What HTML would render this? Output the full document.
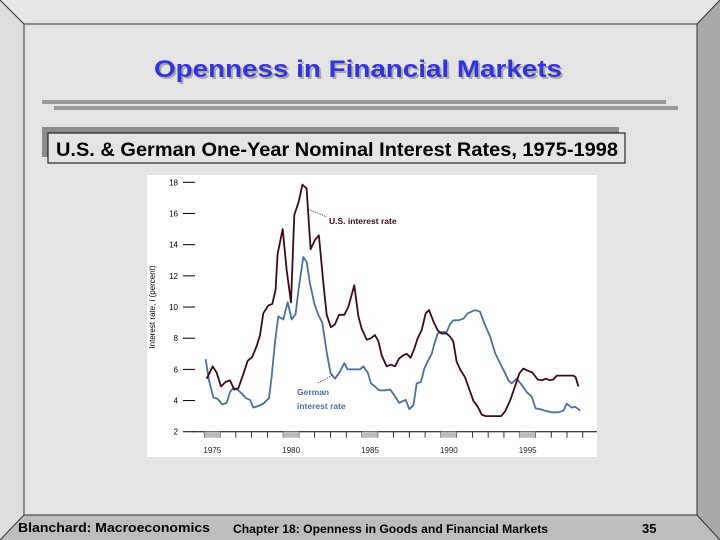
<!DOCTYPE html>
<html><head><meta charset="utf-8"><style>
body{margin:0;width:720px;height:540px;overflow:hidden;background:#d8d8d8;font-family:"Liberation Sans",sans-serif;}
svg{display:block}
</style></head><body>
<svg width="720" height="540" viewBox="0 0 720 540">
<g>
<rect x="0" y="0" width="720" height="540" fill="#d0d0d0"/>
<polygon points="0,0 720,0 697,24 24,24" fill="#e6e6e6"/>
<polygon points="0,0 24,24 24,515 0,540" fill="#dedede"/>
<polygon points="720,0 720,540 697,515 697,24" fill="#a9a9a9"/>
<polygon points="0,540 24,515 697,515 720,540" fill="#bdbdbd"/>
<rect x="24" y="24" width="673" height="491" fill="#e4e4e4" stroke="#333" stroke-width="1"/>
<line x1="0" y1="0" x2="24" y2="24" stroke="#333"/><line x1="720" y1="0" x2="697" y2="24" stroke="#333"/>
<line x1="0" y1="540" x2="24" y2="515" stroke="#333"/><line x1="720" y1="540" x2="697" y2="515" stroke="#333"/>
</g>
<text x="360" y="79" text-anchor="middle" font-size="24" font-weight="bold" fill="#aaa" textLength="408" lengthAdjust="spacingAndGlyphs">Openness in Financial Markets</text>
<text x="358" y="77" text-anchor="middle" font-size="24" font-weight="bold" fill="#3333dd" textLength="408" lengthAdjust="spacingAndGlyphs">Openness in Financial Markets</text>
<rect x="42" y="100" width="624" height="4" fill="#9a9a9a"/>
<rect x="54" y="106" width="624" height="4" fill="#9a9a9a"/>
<rect x="42" y="127" width="577" height="30" fill="#8c8c8c"/>
<rect x="48" y="133" width="577" height="30" fill="#e4e4e4" stroke="#000"/>
<text x="56" y="156" font-size="19" font-weight="bold" fill="#000" textLength="562" lengthAdjust="spacingAndGlyphs">U.S. &amp; German One-Year Nominal Interest Rates, 1975-1998</text>
<rect x="147" y="175" width="450" height="282" fill="#fff"/>
<g id="chart"></g>
<text x="18" y="532" font-size="13" font-weight="bold" fill="#000" textLength="192" lengthAdjust="spacingAndGlyphs">Blanchard: Macroeconomics</text>
<text x="233" y="533" font-size="11.5" font-weight="bold" fill="#000" textLength="315" lengthAdjust="spacingAndGlyphs">Chapter 18:  Openness in Goods and Financial Markets</text>
<text x="642" y="533" font-size="13" font-weight="bold" fill="#000">35</text>
</svg>
<script>
const yTicks=[2,4,6,8,10,12,14,16,18];
const xLabels=[1975,1980,1985,1990,1995];
const usT=[0.15,0.53,0.78,1.06,1.35,1.63,1.90,2.16,2.47,2.75,3.04,3.32,3.53,3.74,4.06,4.31,4.52,4.65,4.97,5.22,5.50,5.71,6.00,6.22,6.49,6.74,7.02,7.27,7.55,7.76,8.03,8.29,8.54,8.88,9.13,9.51,9.77,9.98,10.30,10.57,10.82,11.04,11.25,11.56,11.84,12.09,12.35,12.62,12.83,13.09,13.32,13.53,13.78,14.04,14.25,14.52,14.80,15.05,15.37,15.58,15.79,16.00,16.22,16.53,16.74,17.06,17.34,17.59,17.84,18.22,18.82,19.07,19.39,19.70,19.98,20.23,20.55,20.80,21.14,21.40,21.65,21.92,22.14,22.35,22.66,22.98,23.40,23.55,23.72];
const usV=[5.4,6.2,5.8,4.9,5.2,5.3,4.7,4.8,5.7,6.55,6.8,7.5,8.2,9.6,10.1,10.2,11.1,13.4,15.0,12.4,10.3,15.9,16.8,17.85,17.6,13.7,14.3,14.6,11.5,9.5,8.7,8.9,9.5,9.5,10.0,11.4,9.4,8.6,7.9,8.0,8.2,7.8,6.9,6.2,6.3,6.2,6.7,6.9,7.0,6.75,7.35,8.0,8.5,9.6,9.8,9.1,8.5,8.3,8.3,8.1,7.8,6.5,6.0,5.5,4.9,4.0,3.6,3.1,3.0,3.0,3.0,3.3,4.0,4.9,5.75,6.05,5.9,5.8,5.35,5.3,5.4,5.3,5.35,5.6,5.6,5.6,5.6,5.5,4.9];
const deT=[0.08,0.30,0.57,0.85,1.14,1.42,1.63,1.84,2.11,2.37,2.64,2.90,3.11,3.42,3.74,4.10,4.27,4.48,4.69,5.01,5.29,5.54,5.79,6.00,6.28,6.49,6.70,6.98,7.23,7.48,7.76,8.01,8.29,8.60,8.88,9.09,9.45,9.87,10.08,10.36,10.57,10.82,11.08,11.46,11.78,12.05,12.35,12.56,12.77,13.00,13.26,13.47,13.74,13.95,14.16,14.42,14.59,14.80,15.05,15.37,15.58,15.79,16.11,16.43,16.70,17.17,17.48,17.76,18.12,18.44,18.75,19.03,19.28,19.49,19.81,20.13,20.44,20.76,21.01,21.29,21.61,22.03,22.45,22.77,22.98,23.30,23.51,23.72,23.83];
const deV=[6.65,5.3,4.2,4.1,3.75,3.85,4.55,4.8,4.7,4.45,4.15,4.05,3.55,3.65,3.8,4.15,5.5,7.7,9.4,9.2,10.3,9.2,9.55,11.3,13.2,12.9,11.5,10.2,9.5,9.0,7.1,5.75,5.4,5.85,6.4,6.0,6.0,6.0,6.2,5.8,5.1,4.9,4.65,4.65,4.7,4.35,3.85,3.95,4.05,3.45,3.7,5.1,5.2,6.05,6.5,7.0,7.65,8.3,8.4,8.4,8.9,9.15,9.15,9.25,9.6,9.8,9.7,8.95,8.1,7.05,6.4,5.85,5.3,5.1,5.4,5.0,4.55,4.25,3.5,3.45,3.35,3.25,3.25,3.35,3.8,3.55,3.6,3.45,3.35];
const X=off=>204.3+off*15.77;
const Xy=yr=>X(yr-1975);
const Y=v=>182.3+(18-v)*15.59;
const NS='http://www.w3.org/2000/svg';
const g=document.getElementById('chart');
function mk(t,a){const e=document.createElementNS(NS,t);for(const k in a)e.setAttribute(k,a[k]);g.appendChild(e);return e;}
yTicks.forEach(v=>{
 const l=mk('line',{x1:183,x2:195,y1:Y(v),y2:Y(v),stroke:'#000','stroke-width':1});
 
 
 const t=mk('text',{x:178,y:Y(v)+3,'text-anchor':'end','font-size':8,fill:'#000'});
 t.textContent=v;
 
 
});
const ax=mk('line',{x1:193,x2:597,y1:Y(2),y2:Y(2),stroke:'#000','stroke-width':1});


for(let yr=1975;yr<=1999;yr++){
 const l=mk('line',{x1:Xy(yr),x2:Xy(yr),y1:Y(2),y2:Y(2)+6,stroke:'#000','stroke-width':0.8});
 
 
}
xLabels.forEach(yr=>{
 const r=mk('rect',{x:Xy(yr),y:Y(2),width:15.77,height:6,fill:'#bbb'});
 
 
 const t=mk('text',{x:Xy(yr)+8,y:453,'text-anchor':'middle','font-size':8,fill:'#222'});
 t.textContent=yr;
 
 
});
const yt=mk('text',{x:0,y:0,'text-anchor':'middle','font-size':8,fill:'#000',transform:'translate(155,307) rotate(-90)'});
yt.textContent='Interest rate, i (percent)';


function line(ts,vs,col,name){
 const p=mk('polyline',{points:ts.map((t,i)=>X(t).toFixed(1)+','+Y(vs[i]).toFixed(1)).join(' '),fill:'none',stroke:col,'stroke-width':1.8,'stroke-linejoin':'round'});
 
 
}
line(deT,deV,'#4a6fa0','german-rate-line');
line(usT,usV,'#3a0a1e','us-rate-line');
const l1=mk('line',{x1:308,y1:209,x2:327,y2:217,stroke:'#000','stroke-width':0.6,'stroke-dasharray':'1.5,1'});


const t1=mk('text',{x:329,y:224,'font-size':8.5,'font-weight':'bold',fill:'#3a0a1e'});
t1.textContent='U.S. interest rate';


const l2=mk('line',{x1:318,y1:383,x2:333,y2:375,stroke:'#000','stroke-width':0.6,'stroke-dasharray':'1.5,1'});


const t2=mk('text',{x:297,y:395,'font-size':8.5,'font-weight':'bold',fill:'#4a6fa0'});
t2.textContent='German';


const t3=mk('text',{x:297,y:409,'font-size':8.5,'font-weight':'bold',fill:'#4a6fa0'});
t3.textContent='interest rate';


</script>
</body></html>
